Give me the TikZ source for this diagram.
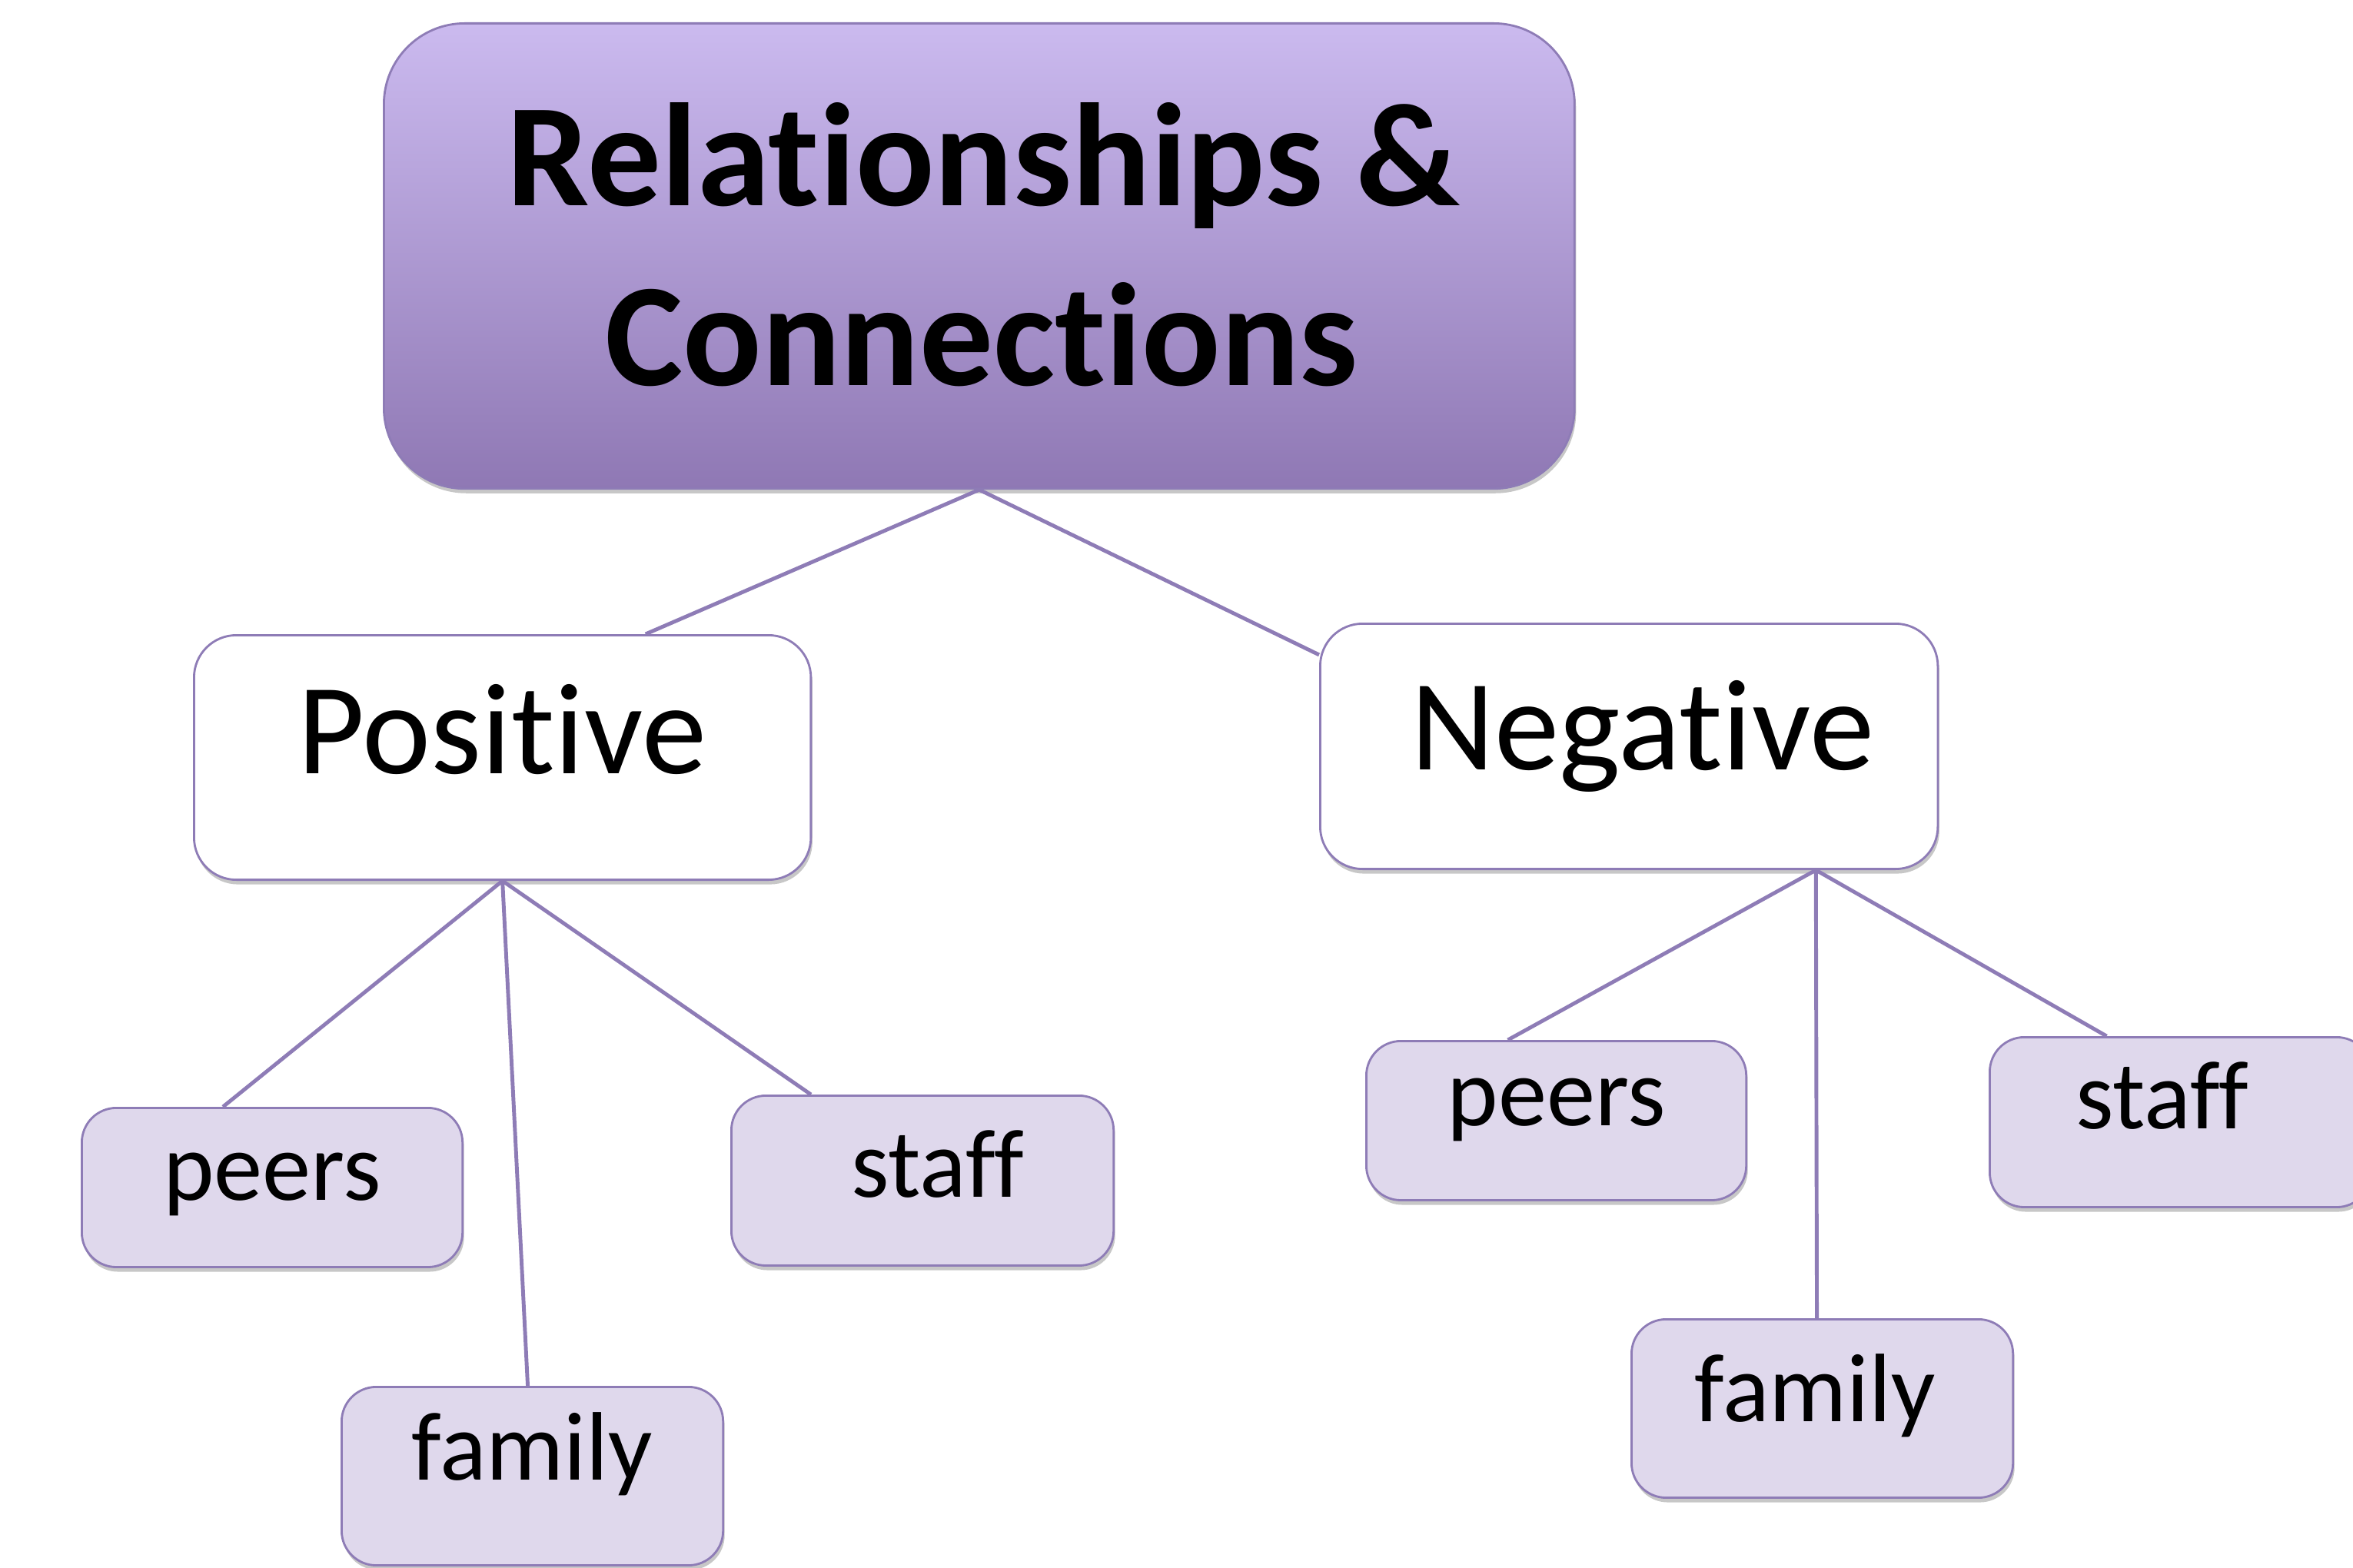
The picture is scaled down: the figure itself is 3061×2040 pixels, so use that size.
\documentclass[tikz,border=0pt]{standalone}
\usepackage{fontspec}
\setmainfont[Ligatures={NoCommon,NoRequired,NoContextual}]{Carlito}
\usetikzlibrary{shadows,calc}
\definecolor{linec}{HTML}{8E7CB6}
\definecolor{boxc}{HTML}{8E7CB6}
\definecolor{childfill}{HTML}{DFD8EC}
\definecolor{ttop}{HTML}{CBBAEF}
\definecolor{tbot}{HTML}{8F78B4}
\tikzset{
  conn/.style={draw=linec, line width=1.4pt},
  softshadow/.style={drop shadow={shadow xshift=0.02cm, shadow yshift=-0.06cm, fill=black, opacity=0.22}},
  titlebox/.style={draw=boxc, line width=0.8pt, top color=ttop, bottom color=tbot,
    rounded corners=1.05cm, inner sep=0pt, minimum width=15.48cm, minimum height=6.05cm, softshadow},
  titletext/.style={inner sep=0pt, font=\fontsize{54.3}{60}\selectfont\bfseries},
  midbox/.style={draw=boxc, line width=0.8pt, fill=white, rounded corners=0.55cm,
    inner sep=0pt, minimum width=8.02cm, font=\fontsize{48}{54}\selectfont, softshadow},
  childbox/.style={draw=boxc, line width=0.8pt, fill=childfill, rounded corners=0.45cm,
    inner sep=0pt, minimum width=4.96cm, font=\fontsize{36}{42}\selectfont, softshadow}
}
\begin{document}
\begin{tikzpicture}[x=0.01cm,y=-0.01cm]
\useasboundingbox (0,0) rectangle (3061,2040);
% title
\node[titlebox, anchor=north west] (title) at (498,29) {};
\node[titletext, anchor=base] (title1) at (1279,268) {Relationships \&};
\node[titletext, anchor=base] (title2) at (1277,502) {Connections};
% second level
\node[midbox, anchor=north west, text height=1.80cm, text depth=1.38cm] (pos) at (251,825) {Positive};
\node[midbox, anchor=north west, minimum width=8.03cm, text height=1.90cm, text depth=1.29cm] (neg) at (1716,810) {\hspace*{0.35cm}Negative};
% children of Positive
\node[childbox, anchor=north west, minimum width=4.95cm, text height=1.20cm, text depth=0.87cm] (peersL) at (105,1440) {peers};
\node[childbox, anchor=north west, text height=1.21cm, text depth=1.11cm] (familyL) at (443,1803) {family};
\node[childbox, anchor=north west, minimum width=4.97cm, text height=1.32cm, text depth=0.89cm] (staffL) at (950,1424) {\hspace*{0.4cm}staff};
% children of Negative
\node[childbox, anchor=north west, minimum width=4.94cm, text height=1.10cm, text depth=0.97cm] (peersR) at (1776,1353) {peers};
\node[childbox, anchor=north west, text height=1.33cm, text depth=0.99cm] (familyR) at (2121,1715) {family\hspace*{0.18cm}};
\node[childbox, anchor=north west, text height=1.19cm, text depth=1.02cm] (staffR) at (2587,1348) {staff\hspace*{0.48cm}};
% connectors
\draw[conn] (title.south) -- ([xshift=1.86cm]pos.north);
\draw[conn] (title.south) -- ([yshift=1.19cm]neg.west);
\draw[conn] (pos.south) -- ([xshift=-0.64cm]peersL.north);
\draw[conn] (pos.south) -- ([xshift=-0.06cm]familyL.north);
\draw[conn] (pos.south) -- ([xshift=-1.45cm]staffL.north);
\draw[conn] ([xshift=2.43cm]neg.south) -- ([xshift=-0.63cm]peersR.north);
\draw[conn] ([xshift=2.43cm]neg.south) -- ([xshift=-0.07cm]familyR.north);
\draw[conn] ([xshift=2.43cm]neg.south) -- ([xshift=-0.96cm]staffR.north);
\end{tikzpicture}
\end{document}
